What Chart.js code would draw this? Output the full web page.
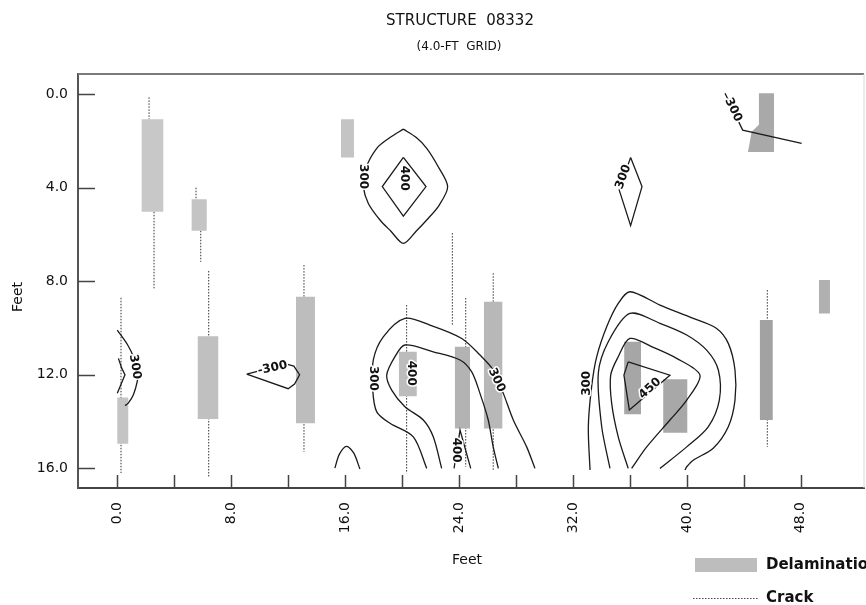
<!DOCTYPE html>
<html>
<head>
<meta charset="utf-8">
<script src="https://cdn.jsdelivr.net/npm/chart.js@4.4.1/dist/chart.umd.min.js"></script>
<style>
  html, body { margin: 0; padding: 0; background: #fff; }
</style>
</head>
<body>
<canvas id="grafico" width="866" height="605"></canvas>
<script>
// eixos (pés)
const xTickValues = [0, 4, 8, 12, 16, 20, 24, 28, 32, 36, 40, 44, 48];
const xTickLabels = ['0.0', '', '8.0', '', '16.0', '', '24.0', '', '32.0', '', '40.0', '', '48.0'];
const yTickValues = [0, 4, 8, 12, 16];
const yTickLabels = ['0.0', '4.0', '8.0', '12.0', '16.0'];

// delaminações: [x0, x1, yTopo, yBase]
const delamRects = [
    [1.71, 3.23, 1.07, 5.03],
    [5.22, 6.28, 4.49, 5.84],
    [5.65, 7.09, 10.35, 13.9],
    [0.0, 0.77, 12.98, 14.96],
    [12.55, 13.88, 8.66, 14.08],
    [15.71, 16.62, 1.07, 2.7],
    [19.78, 21.03, 11.02, 12.92],
    [23.71, 24.77, 10.8, 14.3],
    [25.75, 27.04, 8.88, 14.3],
    [35.6, 36.78, 10.59, 13.69],
    [38.34, 40.03, 12.2, 14.49],
    [45.13, 46.03, 9.66, 13.94],
    [49.28, 50.05, 7.95, 9.38]
];
const delamShades = ['#c8c8c8', '#c4c4c4', '#c0c0c0', '#c4c4c4', '#bdbdbd', '#c4c4c4', '#bcbcbc',
    '#b3b3b3', '#b8b8b8', '#a6a6a6', '#a8a8a8', '#a2a2a2', '#b0b0b0'];
// delaminação irregular no canto superior direito
const delamPolygon = [[45.06, -0.05], [46.12, -0.05], [46.12, 2.47], [44.29, 2.47], [44.55, 1.6], [45.06, 1.3], [45.06, -0.05]];

// trincas: [x, yTopo, yBase]
const cracks = [
    [2.23, 0.13, 1.07],
    [2.58, 5.03, 8.33],
    [5.53, 4.0, 4.49],
    [5.86, 5.84, 7.17],
    [6.42, 7.56, 16.37],
    [0.26, 8.71, 16.21],
    [13.11, 7.31, 15.3],
    [20.32, 9.02, 16.22],
    [23.53, 5.94, 9.88],
    [24.47, 8.72, 15.94],
    [26.4, 7.66, 16.08],
    [45.65, 8.38, 15.09]
];

// curvas de nível (pontos [x, y])
const contour300Left = [[0.0, 10.09], [0.73, 10.73], [1.13, 11.22], [1.47, 11.8], [1.4, 12.29], [1.13, 12.86], [0.77, 13.22], [0.54, 13.32]];
const contourLeftInner = [[0.08, 11.3], [0.31, 11.72], [0.54, 12.0], [0.24, 12.44], [0.0, 12.79]];
const contourMinus300 = [[9.09, 11.98], [10.5, 11.75], [11.9, 11.55], [12.4, 11.63], [12.8, 12.0], [12.45, 12.4], [12.0, 12.6], [9.09, 11.98]];
const contourArc16 = [[15.28, 16.0], [15.6, 15.4], [16.1, 15.07], [16.6, 15.35], [17.04, 16.04]];
const contourLensOuter = [[20.09, 1.49], [21.0, 1.85], [21.73, 2.31], [22.54, 3.1], [23.2, 3.95], [22.6, 4.75], [21.73, 5.38],
    [21.0, 5.85], [20.09, 6.38], [19.2, 5.85], [18.45, 5.38], [17.63, 4.67], [17.28, 3.95], [17.4, 3.24], [18.22, 2.31],
    [19.15, 1.85], [20.09, 1.49]];
const contourLensInner = [[20.09, 2.7], [21.68, 3.95], [20.09, 5.21], [18.61, 3.95], [20.09, 2.7]];
const contourDiamond36 = [[36.05, 2.7], [36.85, 3.95], [36.05, 5.62], [35.25, 4.1], [36.05, 2.7]];
const contourTopRight = [[42.68, -0.05], [43.92, 1.53], [48.06, 2.1]];
const contourMid300 = [[21.73, 16.01], [20.79, 14.66], [19.15, 14.08], [18.22, 13.59], [17.94, 12.66], [17.98, 11.37],
    [18.68, 10.38], [20.2, 9.59], [21.96, 9.88], [24.19, 10.45], [25.47, 11.16], [26.4, 11.8], [27.11, 12.8],
    [27.81, 13.94], [28.75, 15.09], [29.33, 16.01]];
const contourMid350 = [[22.78, 16.01], [22.19, 14.66], [21.49, 13.94], [20.2, 13.37], [19.27, 12.66], [18.92, 12.02],
    [19.5, 11.23], [20.2, 10.73], [22.19, 11.02], [24.07, 11.37], [24.89, 11.88], [25.47, 12.8], [26.05, 13.94],
    [26.4, 15.09], [26.76, 16.01]];
const contourSpike24 = [[23.65, 16.01], [24.07, 14.37], [24.82, 16.01]];
const contourRight300 = [[33.2, 16.08], [33.08, 14.23], [33.31, 12.52], [33.67, 11.23], [34.37, 9.95], [35.18, 8.95],
    [36.0, 8.45], [38.11, 9.02], [40.45, 9.59], [42.09, 10.02], [42.91, 10.66], [43.38, 11.8], [43.38, 13.09],
    [42.91, 14.23], [41.85, 15.15], [40.45, 15.66], [39.99, 15.94], [39.87, 16.08]];
const contourRight350 = [[34.6, 16.01], [34.02, 14.23], [33.78, 11.94], [34.48, 10.59], [36.0, 9.38], [38.11, 9.8],
    [39.99, 10.3], [41.39, 10.95], [42.21, 11.8], [42.28, 13.09], [41.5, 14.23], [39.99, 15.09], [38.11, 16.01]];
const contourRight400 = [[35.88, 16.01], [35.18, 14.66], [34.72, 13.23], [34.65, 12.02], [35.18, 11.23], [36.0, 10.45],
    [37.64, 10.83], [39.28, 11.3], [40.92, 12.02], [39.99, 13.09], [38.81, 13.94], [37.18, 15.09], [36.12, 16.01]];
const contourRight450 = [[35.88, 11.45], [38.81, 12.02], [35.96, 13.51], [35.58, 12.02], [35.88, 11.45]];

const smoothContours = [contour300Left, contourArc16, contourLensOuter, contourMid300, contourMid350,
    contourRight300, contourRight350, contourRight400];
const sharpContours = [contourLeftInner, contourMinus300, contourLensInner, contourDiamond36, contourTopRight,
    contourSpike24, contourRight450];

// rótulos das curvas: [texto, x, y]
const contourLabels = [
    ['300', 1.24, 11.66], ['-300', 10.9, 11.72], ['300', 17.28, 3.52], ['400', 20.14, 3.59],
    ['300', 35.54, 3.53], ['300', 43.26, 0.67], ['300', 17.94, 12.16], ['400', 20.67, 11.94],
    ['300', 26.64, 12.23], ['400', 23.83, 15.23], ['300', 32.96, 12.37], ['450', 37.41, 12.59]
];
const contourLabelAngles = [80, -12, 90, 90, -70, 64, 90, 90, 65, 90, -90, -42];

const FONTE = '"DejaVu Sans", "Liberation Sans", sans-serif';
Chart.defaults.font.family = FONTE;
Chart.defaults.color = '#111';

const pontos = arr => arr.map(p => ({ x: p[0], y: p[1] }));
const datasets = [];

// trincas primeiro (ficam por baixo)
cracks.forEach(c => {
    datasets.push({
        data: [{ x: c[0], y: c[1] }, { x: c[0], y: c[2] }],
        borderColor: '#333', borderWidth: 1, borderDash: [1.5, 1.5],
        pointRadius: 0, fill: false, order: 3
    });
});

delamRects.forEach((r, i) => {
    datasets.push({
        data: [{ x: r[0], y: r[2] }, { x: r[1], y: r[2] }, { x: r[1], y: r[3] }, { x: r[0], y: r[3] }, { x: r[0], y: r[2] }],
        borderColor: 'rgba(0,0,0,0)', borderWidth: 0, backgroundColor: delamShades[i],
        pointRadius: 0, fill: 'shape', order: 2
    });
});
datasets.push({
    data: pontos(delamPolygon),
    borderColor: 'rgba(0,0,0,0)', borderWidth: 0, backgroundColor: '#a9a9a9',
    pointRadius: 0, fill: 'shape', order: 2
});

smoothContours.forEach(c => {
    datasets.push({
        data: pontos(c), borderColor: '#1a1a1a', borderWidth: 1.3,
        pointRadius: 0, fill: false, tension: 0.3, order: 1
    });
});
sharpContours.forEach(c => {
    datasets.push({
        data: pontos(c), borderColor: '#1a1a1a', borderWidth: 1.3,
        pointRadius: 0, fill: false, tension: 0, order: 1
    });
});

// desenhos extras: moldura, marcas internas, rótulos, títulos, legenda
const decoracao = {
    id: 'decoracao',
    beforeDraw(chart) {
        const ctx = chart.ctx;
        ctx.save();
        ctx.fillStyle = '#fff';
        ctx.fillRect(0, 0, chart.width, chart.height);
        ctx.restore();
    },
    afterDraw(chart) {
        const { ctx, chartArea: a, scales: { x, y } } = chart;
        ctx.save();

        // moldura superior e direita
        ctx.strokeStyle = '#7a7a7a';
        ctx.lineWidth = 2;
        ctx.beginPath();
        ctx.moveTo(a.left, a.top);
        ctx.lineTo(a.right, a.top);
        ctx.stroke();
        ctx.strokeStyle = '#d8d8d8';
        ctx.lineWidth = 1;
        ctx.beginPath();
        ctx.moveTo(a.right, a.top);
        ctx.lineTo(a.right, a.bottom);
        ctx.stroke();

        // marcas para dentro
        ctx.strokeStyle = '#444';
        ctx.lineWidth = 1.5;
        ctx.beginPath();
        xTickValues.forEach(v => {
            const px = Math.round(x.getPixelForValue(v)) + 0.5;
            ctx.moveTo(px, a.bottom);
            ctx.lineTo(px, a.bottom - 13);
        });
        yTickValues.forEach(v => {
            const py = Math.round(y.getPixelForValue(v)) + 0.5;
            ctx.moveTo(a.left, py);
            ctx.lineTo(a.left + 17, py);
        });
        ctx.stroke();

        // rótulos das curvas
        ctx.font = 'bold 12px ' + FONTE;
        ctx.textAlign = 'center';
        ctx.textBaseline = 'middle';
        contourLabels.forEach((lab, i) => {
            ctx.save();
            ctx.translate(x.getPixelForValue(lab[1]), y.getPixelForValue(lab[2]));
            ctx.rotate(contourLabelAngles[i] * Math.PI / 180);
            ctx.strokeStyle = '#fff';
            ctx.lineWidth = 3;
            ctx.lineJoin = 'round';
            ctx.strokeText(lab[0], 0, 0);
            ctx.fillStyle = '#111';
            ctx.fillText(lab[0], 0, 0);
            ctx.restore();
        });

        // títulos
        ctx.fillStyle = '#111';
        ctx.textAlign = 'center';
        ctx.font = '15px ' + FONTE;
        ctx.fillText('STRUCTURE  08332', 460, 21);
        ctx.font = '12px ' + FONTE;
        ctx.fillText('(4.0-FT  GRID)', 459, 47);

        // títulos dos eixos
        ctx.font = '14px ' + FONTE;
        ctx.fillText('Feet', 467, 560);
        ctx.save();
        ctx.translate(18, 297);
        ctx.rotate(-Math.PI / 2);
        ctx.fillText('Feet', 0, 0);
        ctx.restore();

        // legenda
        ctx.fillStyle = '#bdbdbd';
        ctx.fillRect(695, 558, 62, 14);
        ctx.strokeStyle = '#444';
        ctx.lineWidth = 1;
        ctx.setLineDash([1.5, 1.5]);
        ctx.beginPath();
        ctx.moveTo(693, 598.5);
        ctx.lineTo(758, 598.5);
        ctx.stroke();
        ctx.setLineDash([]);
        ctx.fillStyle = '#111';
        ctx.textAlign = 'left';
        ctx.font = 'bold 15px ' + FONTE;
        ctx.fillText('Delamination', 766, 565);
        ctx.fillText('Crack', 766, 598);

        ctx.restore();
    }
};

new Chart(document.getElementById('grafico'), {
    type: 'line',
    data: { datasets: datasets },
    options: {
        responsive: false,
        animation: false,
        devicePixelRatio: 1,
        layout: { padding: { top: 74, right: 2, left: 0, bottom: 0 } },
        plugins: {
            legend: { display: false },
            tooltip: { enabled: false },
            title: { display: false }
        },
        scales: {
            x: {
                type: 'linear',
                position: 'bottom',
                min: -2.76,
                max: 52.44,
                grid: { display: false, drawTicks: false },
                border: { display: true, color: '#444', width: 2 },
                afterBuildTicks: s => { s.ticks = xTickValues.map(v => ({ value: v })); },
                afterFit: s => { s.height = 117; },
                ticks: {
                    autoSkip: false,
                    minRotation: 90,
                    maxRotation: 90,
                    padding: 14,
                    font: { size: 14 },
                    callback: (v, i) => xTickLabels[i]
                }
            },
            y: {
                type: 'linear',
                reverse: true,
                min: -0.87,
                max: 16.85,
                grid: { display: false, drawTicks: false },
                border: { display: true, color: '#555', width: 2 },
                afterBuildTicks: s => { s.ticks = yTickValues.map(v => ({ value: v })); },
                afterFit: s => { s.width = 78; },
                ticks: {
                    autoSkip: false,
                    padding: 10,
                    font: { size: 14 },
                    callback: (v, i) => yTickLabels[i]
                }
            }
        }
    },
    plugins: [decoracao]
});
</script>
</body>
</html>
